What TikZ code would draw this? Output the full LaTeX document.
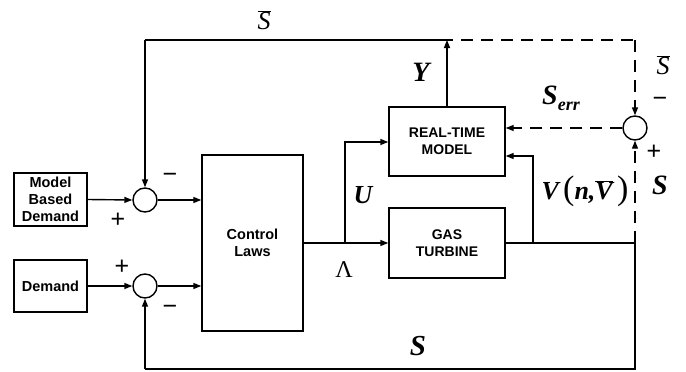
\documentclass[tikz,border=0pt]{standalone}
\usepackage{fontspec}
\setmainfont{Liberation Sans}
\newfontfamily\serf{Liberation Serif}
\usetikzlibrary{arrows.meta,calc}
\newcommand\ovl[1]{$\overline{\hbox{#1}}$}
\tikzset{
  blk/.style={draw, rectangle, inner sep=0pt, align=center, font=\fontsize{14.5}{17}\selectfont\bfseries},
  sblk/.style={blk, font=\fontsize{14}{16.5}\selectfont\bfseries},
  sumc/.style={draw, circle, minimum size=24pt, inner sep=0pt},
  lab/.style={inner sep=0pt, font=\fontsize{28}{28}\selectfont\serf\bfseries\itshape},
  slab/.style={inner sep=0pt, font=\fontsize{26}{26}\selectfont\serf\itshape},
  sgn/.style={inner sep=0pt, font=\fontsize{25}{25}\selectfont},
  dsh/.style={dash pattern=on 12pt off 8pt},
}
\begin{document}
\begin{tikzpicture}[x=1pt, y=-1pt, line width=1.4pt, >={Triangle[length=8pt,width=6pt]}]
\useasboundingbox (0,0) rectangle (686,372);
% blocks
\node[blk, minimum width=73pt, minimum height=53pt] (mbd) at (50.5,199.5) {Model\\Based\\Demand};
\node[blk, minimum width=73pt, minimum height=52pt] (dem) at (50.5,286) {Demand};
\node[sumc] (s1) at (145,200) {};
\node[sumc] (s2) at (145,286) {};
\node[blk, minimum width=101pt, minimum height=176pt] (cl) at (252.5,243) {Control\\Laws};
\node[sblk, minimum width=116pt, minimum height=69pt] (rt) at (447,141.5) {REAL-TIME\\MODEL};
\node[sblk, minimum width=116pt, minimum height=70pt] (gt) at (447,243) {GAS\\TURBINE};
\node[sumc] (s3) at (635,128) {};
% junctions
\coordinate (lj) at (345,243);
\coordinate (vj) at (533,243);
\coordinate (cr) at (635,243);
\coordinate (br) at (635,369);
\coordinate (bl) at (145,369);
\coordinate (tl) at (145,40);
\coordinate (ty) at (447,40);
\coordinate (tr) at (635,40);
\coordinate (rtu) at ($(rt.west)+(0,0.5)$);
\coordinate (rtv) at ($(rt.east)+(0,14.5)$);
\coordinate (rte) at ($(rt.east)+(0,-13.5)$);
% connectors
\draw[->] (mbd.east) -- (s1.west);
\draw[->] (dem.east) -- (s2.west);
\draw[->] (s1.east) -- (s1.east -| cl.west);
\draw[->] (s2.east) -- (s2.east -| cl.west);
\draw (cl.east) -- (lj);
\draw[->] (lj) -- (gt.west);
\draw[->] (lj) |- (rtu);
\draw (gt.east) -- (cr) -- (br) -- (bl);
\draw[->] (bl) -- (s2.south);
\draw[->] (vj) |- (rtv);
\draw[->] (rt.north) -- (ty);
\draw (ty) -- (tl);
\draw[->] (tl) -- (s1.north);
\draw[dsh, dash phase=-14pt] (ty) -- (tr);
\draw[dsh, ->] (tr) -- (s3.north);
\draw[dsh, ->] (cr) -- (s3.south);
\draw[dsh, ->] (s3.west) -- (rte);
% labels
\node[slab] (lsb) at (264,20) {\ovl{S}};
\node[lab] (ly) at (421,72) {Y};
\node[lab] (lserr) at (561,98) {S\raisebox{-6pt}{\fontsize{18}{18}\selectfont err}};
\node[slab] (lsbr) at (663,65) {\ovl{S}};
\node[lab] (lsr) at (660,185) {S};
\node[lab, font=\fontsize{26}{26}\selectfont\serf\bfseries\itshape] (lv) at (585,191) {V\,{\fontsize{34}{34}\selectfont\upshape\mdseries(}n,\ovl{V}\,{\fontsize{34}{34}\selectfont\upshape\mdseries)}};
\node[lab, font=\fontsize{26}{26}\selectfont\serf\bfseries\itshape] (lu) at (363,195) {U};
\node[lab, font=\fontsize{24}{24}\selectfont\serf] (llam) at (344,270) {Λ};
\node[lab, font=\fontsize{29}{29}\selectfont\serf\bfseries\itshape] (lsbot) at (418,346) {S};
\node[sgn] (m1) at (170,178) {−};
\node[sgn] (p1) at (118,220) {+};
\node[sgn] (p2) at (122,267) {+};
\node[sgn] (m2) at (170,310) {−};
\node[sgn] (m3) at (660,102) {−};
\node[sgn] (p3) at (654,152) {+};
\end{tikzpicture}
\end{document}
